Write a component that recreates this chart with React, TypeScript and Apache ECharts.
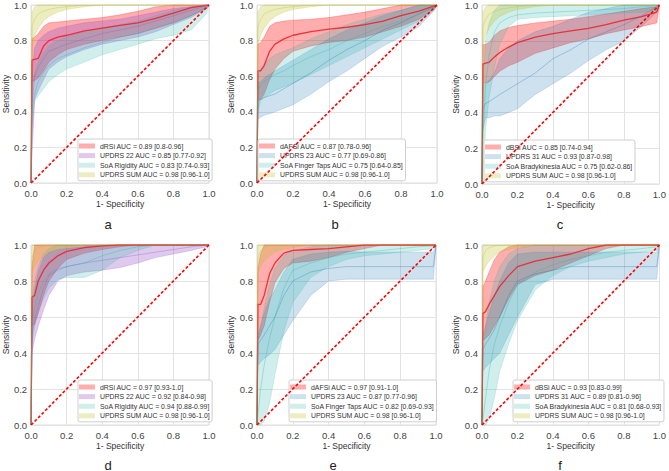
import React, { useEffect, useRef } from 'react';
import * as echarts from 'echarts';

// shared false-positive-rate grid
const X = [0, 0.005, 0.02, 0.04, 0.07, 0.1, 0.15, 0.2, 0.3, 0.4, 0.5, 0.6, 0.7, 0.8, 0.9, 0.985, 1];

// UPDRS SUM (top row / bottom row)
const topOliveM = [0, .88, .92, .95, .965, .975, .985, .99, 1, 1, 1, 1, 1, 1, 1, 1, 1];
const topOliveL = [0, .78, .83, .87, .91, .935, .96, .975, .99, 1, 1, 1, 1, 1, 1, 1, 1];
const topOliveH = [0, .96, .99, 1, 1, 1, 1, 1, 1, 1, 1, 1, 1, 1, 1, 1, 1];
const botOliveM = [0, .93, .97, .985, .995, 1, 1, 1, 1, 1, 1, 1, 1, 1, 1, 1, 1];
const botOliveL = [0, .85, .88, .91, .94, .96, .975, .985, 1, 1, 1, 1, 1, 1, 1, 1, 1];
const botOliveH = [0, 1, 1, 1, 1, 1, 1, 1, 1, 1, 1, 1, 1, 1, 1, 1, 1];

// panel a
const aRedM = [0, .69, .695, .70, .77, .80, .82, .83, .855, .87, .885, .90, .925, .955, .985, .998, 1];
const aRedL = [0, .57, .575, .59, .63, .68, .72, .75, .78, .80, .82, .84, .87, .90, .94, .98, 1];
const aRedH = [0, .81, .82, .84, .88, .90, .905, .91, .92, .93, .945, .965, .99, 1, 1, 1, 1];
const aPurM = [0, .45, .60, .65, .70, .74, .76, .78, .81, .84, .86, .88, .91, .94, .97, .995, 1];
const aPurL = [0, .15, .47, .52, .58, .64, .68, .71, .75, .78, .80, .82, .85, .89, .93, .98, 1];
const aPurH = [0, .62, .76, .80, .83, .85, .87, .88, .90, .91, .92, .94, .96, .98, .99, 1, 1];
const aTealM = [0, .40, .50, .57, .62, .66, .70, .72, .76, .79, .82, .84, .87, .90, .94, .99, 1];
const aTealL = [0, .30, .46, .49, .53, .57, .61, .64, .68, .72, .75, .78, .81, .83, .86, .95, 1];
const aTealH = [0, .55, .62, .68, .73, .77, .80, .82, .85, .87, .89, .91, .94, .97, .99, 1, 1];

// panel b
const bRedM = [0, .63, .63, .66, .74, .78, .81, .83, .85, .865, .875, .89, .91, .94, .965, .995, 1];
const bRedL = [0, .47, .47, .50, .58, .64, .70, .74, .77, .79, .80, .82, .85, .88, .92, .98, 1];
const bRedH = [0, .78, .79, .82, .88, .90, .91, .915, .92, .93, .945, .96, .98, 1, 1, 1, 1];
const bBlueM = [0, .46, .47, .48, .49, .50, .53, .56, .62, .69, .75, .80, .86, .90, .95, .99, 1];
const bBlueL = [0, .36, .37, .38, .39, .40, .42, .44, .50, .57, .63, .70, .77, .82, .88, .97, 1];
const bBlueH = [0, .56, .57, .59, .61, .63, .66, .69, .75, .81, .86, .90, .94, .97, 1, 1, 1];
const bTealM = [0, .52, .55, .57, .59, .61, .63, .66, .71, .75, .80, .84, .88, .91, .95, .99, 1];
const bTealL = [0, .40, .46, .48, .50, .52, .54, .56, .61, .66, .71, .76, .81, .86, .91, .97, 1];
const bTealH = [0, .60, .64, .67, .70, .72, .74, .76, .81, .85, .89, .92, .95, .97, 1, 1, 1];

// panel c
const cRedM = [0, .67, .675, .68, .71, .735, .765, .79, .82, .84, .855, .87, .89, .915, .935, .96, 1];
const cRedL = [0, .56, .565, .57, .60, .63, .66, .68, .73, .76, .79, .81, .84, .86, .88, .90, 1];
const cRedH = [0, .78, .78, .79, .83, .855, .875, .885, .90, .91, .92, .935, .95, .965, .98, .99, 1];
const cBlueM = [0, .42, .45, .46, .48, .50, .53, .56, .62, .70, .75, .81, .85, .89, .94, .99, 1];
const cBlueL = [0, .30, .37, .37, .38, .38, .40, .42, .50, .56, .62, .69, .75, .80, .88, .96, 1];
const cBlueH = [0, .55, .56, .58, .62, .70, .76, .80, .85, .88, .92, .96, .98, 1, 1, 1, 1];
const cTealM = [0, .25, .55, .72, .85, .90, .93, .945, .955, .96, .965, .97, .975, .98, .99, .995, 1];
const cTealL = [0, .05, .30, .48, .65, .78, .88, .92, .93, .935, .94, .945, .95, .955, .96, .97, 1];
const cTealH = [0, .55, .80, .90, .97, 1, 1, 1, 1, 1, 1, 1, 1, 1, 1, 1, 1];

// panel d
const dRedM = [0, .71, .72, .80, .86, .90, .94, .965, .985, .995, 1, 1, 1, 1, 1, 1, 1];
const dRedL = [0, .55, .56, .62, .72, .80, .87, .92, .955, .975, .99, 1, 1, 1, 1, 1, 1];
const dRedH = [0, .88, 1, 1, 1, 1, 1, 1, 1, 1, 1, 1, 1, 1, 1, 1, 1];
const dPurM = [0, .50, .58, .66, .76, .83, .86, .88, .90, .915, .93, .945, .96, .975, .99, .998, 1];
const dPurL = [0, .40, .48, .55, .64, .72, .80, .83, .85, .86, .875, .90, .93, .95, .97, .99, 1];
const dPurH = [0, .65, .75, .85, .93, .96, .975, .98, .99, 1, 1, 1, 1, 1, 1, 1, 1];
const dTealM = [0, .55, .65, .73, .80, .84, .87, .88, .90, .94, .97, .99, 1, 1, 1, 1, 1];
const dTealL = [0, .45, .55, .63, .70, .76, .81, .82, .82, .86, .93, .97, 1, 1, 1, 1, 1];
const dTealH = [0, .70, .80, .88, .95, .98, 1, 1, 1, 1, 1, 1, 1, 1, 1, 1, 1];

// panel e
const eRedM = [0, .67, .67, .72, .84, .90, .955, .97, .975, .98, .99, 1, 1, 1, 1, 1, 1];
const eRedL = [0, .47, .50, .55, .68, .79, .87, .90, .91, .93, .96, .98, 1, 1, 1, 1, 1];
const eRedH = [0, .87, .95, 1, 1, 1, 1, 1, 1, 1, 1, 1, 1, 1, 1, 1, 1];
const eBlueM = [0, .45, .47, .50, .55, .60, .72, .80, .85, .87, .88, .88, .88, .88, .88, .88, 1];
const eBlueL = [0, .33, .35, .37, .39, .42, .50, .58, .72, .80, .81, .81, .81, .81, .81, .81, 1];
const eBlueH = [0, .50, .55, .62, .70, .75, .85, .92, .95, .96, .965, .96, .96, .96, .96, .96, 1];
const eTealM = [0, .05, .20, .33, .48, .60, .76, .86, .90, .93, .95, .96, .97, .98, .99, .995, 1];
const eTealL = [0, 0, 0, .02, .12, .28, .52, .68, .82, .88, .92, .94, .95, .96, .97, .98, 1];
const eTealH = [0, .45, .55, .65, .78, .87, .94, .97, .99, 1, 1, 1, 1, 1, 1, 1, 1];

// panel f
const fRedM = [0, .62, .63, .67, .72, .77, .83, .88, .91, .93, .95, .98, 1, 1, 1, 1, 1];
const fRedL = [0, .47, .48, .50, .55, .60, .70, .78, .83, .86, .90, .94, .98, 1, 1, 1, 1];
const fRedH = [0, .77, .80, .85, .92, .96, .99, 1, 1, 1, 1, 1, 1, 1, 1, 1, 1];
const fBlueM = [0, .42, .45, .48, .53, .60, .72, .80, .84, .86, .88, .88, .88, .88, .88, .88, 1];
const fBlueL = [0, .30, .32, .34, .37, .40, .50, .60, .78, .81, .81, .81, .81, .81, .81, .81, 1];
const fBlueH = [0, .50, .55, .62, .72, .80, .90, .95, .96, .96, .96, .96, .96, .96, .96, .96, 1];
const fTealM = [0, .03, .15, .30, .45, .55, .68, .78, .85, .89, .92, .94, .96, .97, .98, .99, 1];
const fTealL = [0, 0, 0, .03, .15, .30, .45, .58, .75, .83, .88, .91, .93, .95, .96, .97, 1];
const fTealH = [0, .40, .55, .68, .80, .88, .95, .98, 1, 1, 1, 1, 1, 1, 1, 1, 1];

const LETTERS = ['a', 'b', 'c', 'd', 'e', 'f'];
const SUM_NAME = 'UPDRS SUM AUC = 0.98 [0.96-1.0]';
const NAMES = [
  ['dRSi AUC = 0.89 [0.8-0.96]', 'UPDRS 22 AUC = 0.85 [0.77-0.92]', 'SoA Rigidity AUC = 0.83 [0.74-0.93]', SUM_NAME],
  ['dAFSi AUC = 0.87 [0.78-0.96]', 'UPDRS 23 AUC = 0.77 [0.69-0.86]', 'SoA Finger Taps AUC = 0.75 [0.64-0.85]', SUM_NAME],
  ['dBSi AUC = 0.85 [0.74-0.94]', 'UPDRS 31 AUC = 0.93 [0.87-0.98]', 'SoA Bradykinesia AUC = 0.75 [0.62-0.86]', SUM_NAME],
  ['dRSi AUC = 0.97 [0.93-1.0]', 'UPDRS 22 AUC = 0.92 [0.84-0.98]', 'SoA Rigidity AUC = 0.94 [0.88-0.99]', SUM_NAME],
  ['dAFSi AUC = 0.97 [0.91-1.0]', 'UPDRS 23 AUC = 0.87 [0.77-0.96]', 'SoA Finger Taps AUC = 0.82 [0.69-0.93]', SUM_NAME],
  ['dBSi AUC = 0.93 [0.83-0.99]', 'UPDRS 31 AUC = 0.89 [0.81-0.96]', 'SoA Bradykinesia AUC = 0.81 [0.68-0.93]', SUM_NAME],
];

const RED = [255, 0, 0];
const PURPLE = [148, 80, 200];
const TEAL = [40, 180, 170];
const BLUE = [31, 119, 180];
const OLIVE = [188, 189, 34];

const rgba = (c: number[], a: number) => `rgba(${c[0]},${c[1]},${c[2]},${a})`;

type Curve = { m: number[]; l: number[]; h: number[]; c: number[]; fa: number };

const PANEL_CURVES: Curve[][] = [
  [
    { m: aRedM, l: aRedL, h: aRedH, c: RED, fa: 0.32 },
    { m: aPurM, l: aPurL, h: aPurH, c: PURPLE, fa: 0.3 },
    { m: aTealM, l: aTealL, h: aTealH, c: TEAL, fa: 0.22 },
    { m: topOliveM, l: topOliveL, h: topOliveH, c: OLIVE, fa: 0.28 },
  ],
  [
    { m: bRedM, l: bRedL, h: bRedH, c: RED, fa: 0.32 },
    { m: bBlueM, l: bBlueL, h: bBlueH, c: BLUE, fa: 0.22 },
    { m: bTealM, l: bTealL, h: bTealH, c: TEAL, fa: 0.22 },
    { m: topOliveM, l: topOliveL, h: topOliveH, c: OLIVE, fa: 0.28 },
  ],
  [
    { m: cRedM, l: cRedL, h: cRedH, c: RED, fa: 0.32 },
    { m: cBlueM, l: cBlueL, h: cBlueH, c: BLUE, fa: 0.22 },
    { m: cTealM, l: cTealL, h: cTealH, c: TEAL, fa: 0.22 },
    { m: topOliveM, l: topOliveL, h: topOliveH, c: OLIVE, fa: 0.28 },
  ],
  [
    { m: dRedM, l: dRedL, h: dRedH, c: RED, fa: 0.32 },
    { m: dPurM, l: dPurL, h: dPurH, c: PURPLE, fa: 0.3 },
    { m: dTealM, l: dTealL, h: dTealH, c: TEAL, fa: 0.22 },
    { m: botOliveM, l: botOliveL, h: botOliveH, c: OLIVE, fa: 0.28 },
  ],
  [
    { m: eRedM, l: eRedL, h: eRedH, c: RED, fa: 0.32 },
    { m: eBlueM, l: eBlueL, h: eBlueH, c: BLUE, fa: 0.22 },
    { m: eTealM, l: eTealL, h: eTealH, c: TEAL, fa: 0.22 },
    { m: botOliveM, l: botOliveL, h: botOliveH, c: OLIVE, fa: 0.28 },
  ],
  [
    { m: fRedM, l: fRedL, h: fRedH, c: RED, fa: 0.32 },
    { m: fBlueM, l: fBlueL, h: fBlueH, c: BLUE, fa: 0.22 },
    { m: fTealM, l: fTealL, h: fTealH, c: TEAL, fa: 0.22 },
    { m: botOliveM, l: botOliveL, h: botOliveH, c: OLIVE, fa: 0.28 },
  ],
];

// layout
const GRIDS = [
  { left: 30, top: 5, width: 179, height: 178 },
  { left: 257, top: 5, width: 180, height: 178 },
  { left: 482, top: 5, width: 180, height: 179 },
  { left: 30, top: 245, width: 179, height: 180 },
  { left: 257, top: 245, width: 179, height: 180 },
  { left: 482, top: 245, width: 180, height: 180 },
];
const LEGEND_POS = [
  { left: 78, top: 139 },
  { left: 258, top: 139 },
  { left: 484, top: 140 },
  { left: 78, top: 380 },
  { left: 289, top: 380 },
  { left: 513, top: 380 },
];
const LETTER_POS = [
  { x: 108, y: 224 },
  { x: 335, y: 224 },
  { x: 560, y: 224 },
  { x: 108, y: 465 },
  { x: 333, y: 465 },
  { x: 560, y: 465 },
];

const FONT = "'Liberation Sans', Arial, sans-serif";

function buildOption() {
  const grid: any[] = [];
  const xAxis: any[] = [];
  const yAxis: any[] = [];
  const series: any[] = [];
  const legend: any[] = [];
  const graphic: any[] = [];

  for (let p = 0; p < 6; p++) {
    grid.push({ ...GRIDS[p], show: true, borderColor: '#dcdcdc', borderWidth: 1, backgroundColor: '#fff' });
    xAxis.push({
      type: 'value', gridIndex: p, min: 0, max: 1, interval: 0.2,
      name: '1- Specificity', nameLocation: 'middle', nameGap: 16,
      nameTextStyle: { fontSize: 8.5, color: '#333', fontFamily: FONT },
      axisLine: { show: false }, axisTick: { show: false },
      axisLabel: { fontSize: 9.5, color: '#444', margin: 5, fontFamily: FONT, formatter: (v: number) => v.toFixed(1) },
      splitLine: { lineStyle: { color: '#e3e3e3', width: 1 } },
    });
    yAxis.push({
      type: 'value', gridIndex: p, min: 0, max: 1, interval: 0.2,
      name: 'Sensitivity', nameLocation: 'middle', nameGap: 20,
      nameTextStyle: { fontSize: 8.5, color: '#333', fontFamily: FONT },
      axisLine: { show: false }, axisTick: { show: false },
      axisLabel: { fontSize: 9.5, color: '#444', margin: 4, fontFamily: FONT, formatter: (v: number) => v.toFixed(1) },
      splitLine: { lineStyle: { color: '#e3e3e3', width: 1 } },
    });

    const curves = PANEL_CURVES[p];
    curves.forEach((cv, k) => {
      const name = NAMES[p][k];
      const pts = X.map((x, i) => [x, cv.h[i]]).concat(X.map((x, i) => [x, cv.l[i]]).reverse());
      const fill = rgba(cv.c, cv.fa);
      const stroke = rgba(cv.c, cv.fa + 0.08);
      series.push({
        type: 'custom', name, xAxisIndex: p, yAxisIndex: p,
        coordinateSystem: 'cartesian2d', data: pts, encode: { x: 0, y: 1 },
        itemStyle: { color: fill },
        silent: true, z: 2,
        renderItem: (params: any, api: any) => {
          if (params.dataIndex !== 0) return null;
          const points = pts.map((q) => api.coord(q));
          return { type: 'polygon', shape: { points }, style: { fill, stroke, lineWidth: 0.6 } };
        },
      });
      series.push({
        type: 'line', name: `mean-${p}-${k}`, xAxisIndex: p, yAxisIndex: p,
        data: X.map((x, i) => [x, cv.m[i]]), showSymbol: false, symbol: 'none', silent: true, z: 3,
        lineStyle: k === 0 ? { color: 'rgba(235,30,40,0.85)', width: 1.3 } : { color: rgba(cv.c, 0.32), width: 1 },
      });
    });
    series.push({
      type: 'line', name: `chance-${p}`, xAxisIndex: p, yAxisIndex: p,
      data: [[0, 0], [1, 1]], showSymbol: false, symbol: 'none', silent: true, z: 4,
      lineStyle: { color: '#ff0000', width: 1.6, type: [3, 2] },
    });

    legend.push({
      ...LEGEND_POS[p], orient: 'vertical', data: NAMES[p], selectedMode: false,
      icon: 'rect', itemWidth: 16, itemHeight: 5, itemGap: 1.6,
      padding: [3, 2, 2, 1], backgroundColor: '#fff', borderColor: '#cfcfcf', borderWidth: 1, borderRadius: 2,
      textStyle: { fontSize: 6.9, color: '#333', fontFamily: FONT, lineHeight: 8 },
    });

    graphic.push({
      type: 'text', x: LETTER_POS[p].x, y: LETTER_POS[p].y,
      style: { text: LETTERS[p], fill: '#222', font: `13px ${FONT}`, textAlign: 'center', textVerticalAlign: 'middle' },
    });
  }

  return { animation: false, backgroundColor: '#fff', grid, xAxis, yAxis, series, legend, graphic };
}

export default function App() {
  const ref = useRef<HTMLDivElement>(null);
  useEffect(() => {
    if (!ref.current) return;
    const chart = echarts.init(ref.current, undefined, { renderer: 'svg' });
    chart.setOption(buildOption() as any);
    return () => chart.dispose();
  }, []);
  return (
    <div
      ref={ref}
      style={{ position: 'absolute', left: 0, top: 0, width: 669, height: 471, background: '#fff' }}
    />
  );
}
